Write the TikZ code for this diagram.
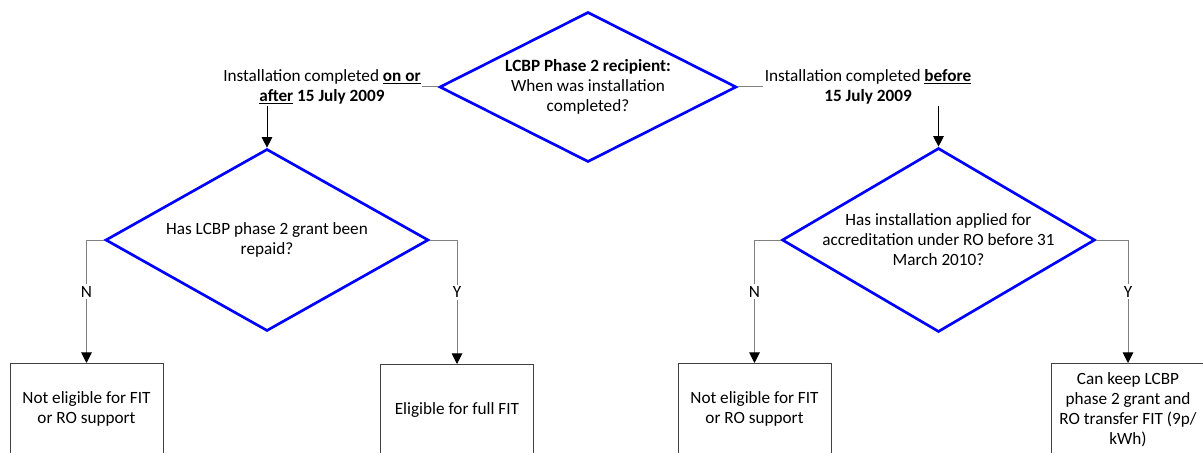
\documentclass[tikz,border=0pt]{standalone}
\usepackage{fontspec}
\setmainfont{Carlito}
\usetikzlibrary{arrows.meta,shapes.geometric}
\definecolor{DecBlue}{HTML}{0000FF}
\definecolor{LinkGrey}{HTML}{808080}
\definecolor{BoxGrey}{HTML}{404040}
\tikzset{
    every node/.style={font=\fontsize{12.9}{15}\selectfont},
    decision/.style={
        diamond, draw=DecBlue, line width=2pt, inner sep=0pt
    },
    qtext/.style={align=center, inner sep=0pt},
    outcome/.style={
        rectangle, draw=BoxGrey, line width=0.75pt,
        minimum width=114.75pt, minimum height=69pt,
        align=center, anchor=north
    },
    branchtext/.style={align=center, inner sep=1pt},
    stub/.style={draw=LinkGrey, line width=0.75pt},
    link/.style={
        draw=LinkGrey, line width=0.75pt,
        -{Triangle[length=8pt, width=8pt, color=black]}
    },
    yn/.style={fill=white, inner sep=1.5pt, pos=0.71},
}

\begin{document}
\begin{tikzpicture}[x=0.75pt, y=-0.75pt]
    \useasboundingbox (0,0) rectangle (1203,453);
    \fill[white] (0,0) rectangle (1203,453);
    \clip (0,0) rectangle (1203,453);

    % First question
    \node[decision, minimum width=222.75pt, minimum height=112.5pt] (q0) at (588,87) {};
    \node[qtext] (q0txt) at (q0) {\textbf{LCBP Phase 2 recipient:}\\When was installation\\completed?};

    % Two branches of the first question
    \node[branchtext] (late) at (322,87) {Installation completed \textbf{\underline{on or}}\\\textbf{\underline{after} 15 July 2009}};
    \node[branchtext] (early) at (868,87) {Installation completed \textbf{\underline{before}}\\\textbf{15 July 2009}};

    % Second level questions
    \node[decision, minimum width=242.25pt, minimum height=136.5pt] (q1) at (267,240) {};
    \node[qtext] (q1txt) at (q1) {Has LCBP phase 2 grant been\\repaid?};
    \node[decision, minimum width=234.75pt, minimum height=138pt] (q2) at (938.5,240) {};
    \node[qtext] (q2txt) at (q2) {Has installation applied for\\accreditation under RO before 31\\March 2010?};

    % Outcomes
    \node[outcome] (n1) at (86.5,363) {\vphantom{Ag}\\Not eligible for FIT\\or RO support\\\vphantom{Ag}};
    \node[outcome] (y1) at (457,364) {Eligible for full FIT};
    \node[outcome] (n2) at (754.5,363) {\vphantom{Ag}\\Not eligible for FIT\\or RO support\\\vphantom{Ag}};
    \node[outcome] (y2) at (1128,363) {Can keep LCBP\\phase 2 grant and\\RO transfer FIT (9p/\\kWh)};

    % Connectors
    \draw[stub] (q0.west) -- (late.east);
    \draw[stub] (q0.east) -- (early.west);
    \draw[link, draw=black] (late.south -| q1.north) -- (q1.north);
    \draw[link, draw=black] (early.south -| q2.north) -- (q2.north);

    \draw[link] (q1.west) -| node[yn] {N} (n1.north);
    \draw[link] (q1.east) -| node[yn] {Y} (y1.north);
    \draw[link] (q2.west) -| node[yn] {N} (n2.north);
    \draw[link] (q2.east) -| node[yn] {Y} (y2.north);
\end{tikzpicture}
\end{document}
